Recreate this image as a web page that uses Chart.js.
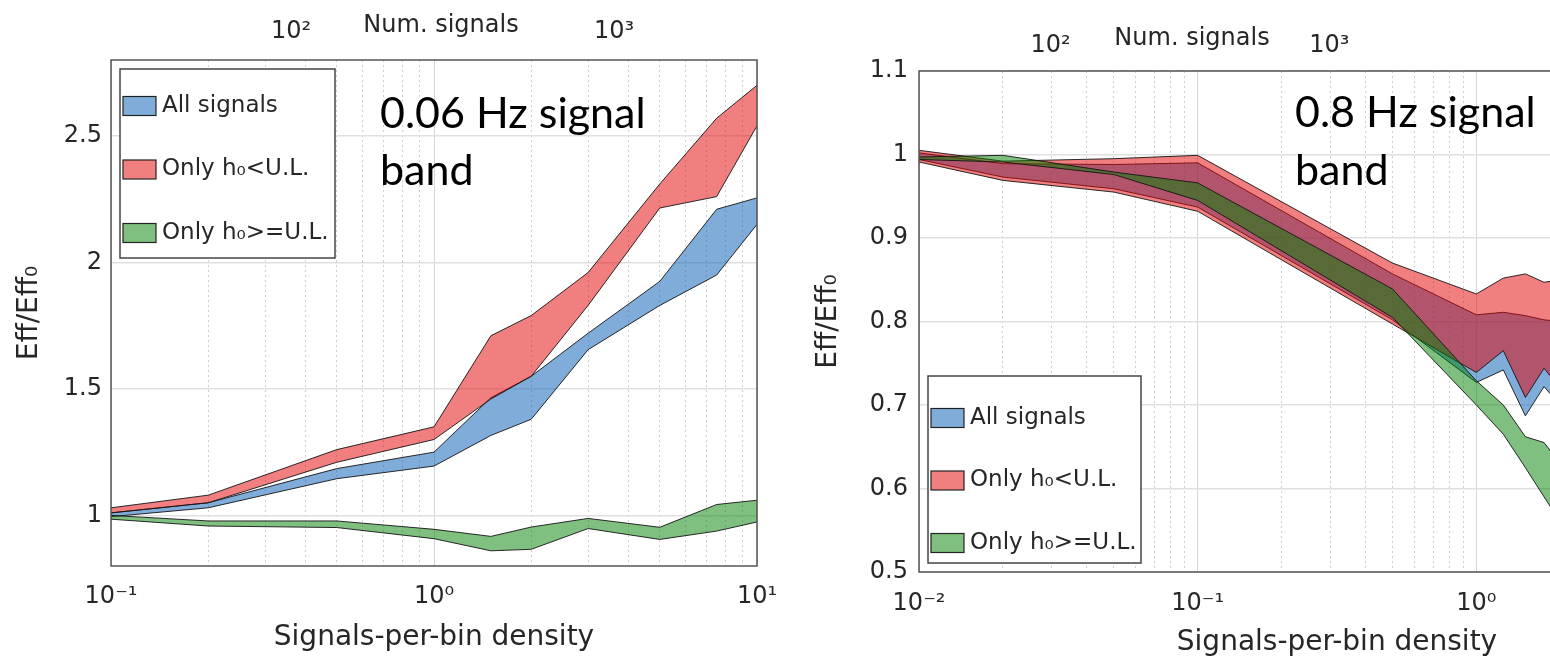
<!DOCTYPE html>
<html>
<head>
<meta charset="utf-8">
<script src="https://cdn.jsdelivr.net/npm/chart.js@4.4.1/dist/chart.umd.min.js"></script>
<style>
  html, body { margin: 0; padding: 0; overflow: hidden; background: #fff; }
  #wrap { position: relative; width: 1550px; height: 660px; overflow: hidden; }
  #left { position: absolute; left: 0; top: 0; }
  #right { position: absolute; left: 800px; top: 0; }
</style>
</head>
<body>
<div id="wrap">
  <canvas id="left" width="800" height="660"></canvas>
  <canvas id="right" width="1000" height="660"></canvas>
</div>
<script>
// ---- left panel: 0.06 Hz signal band ----
var densityA = [0.1, 0.2, 0.5, 1, 1.5, 2, 3, 5, 7.5, 10];
var allHiA   = [1.01, 1.05, 1.185, 1.25, 1.465, 1.55, 1.72, 1.925, 2.21, 2.255];
var allLoA   = [0.995, 1.03, 1.145, 1.195, 1.316, 1.38, 1.655, 1.83, 1.95, 2.15];
var belowHiA = [1.03, 1.08, 1.26, 1.35, 1.71, 1.79, 1.96, 2.31, 2.57, 2.70];
var belowLoA = [1.01, 1.05, 1.21, 1.30, 1.46, 1.55, 1.83, 2.215, 2.26, 2.54];
var aboveHiA = [1.0, 0.978, 0.978, 0.945, 0.917, 0.954, 0.988, 0.953, 1.043, 1.06];
var aboveLoA = [0.985, 0.958, 0.952, 0.908, 0.86, 0.866, 0.948, 0.905, 0.938, 0.974];

// ---- right panel: 0.8 Hz signal band ----
var densityB = [0.01, 0.02, 0.05, 0.1, 0.5, 1, 1.25, 1.5, 1.75, 2];
var allHiB   = [1.002, 0.989, 0.988, 0.990, 0.857, 0.808, 0.811, 0.807, 0.802, 0.80];
var allLoB   = [0.994, 0.973, 0.959, 0.937, 0.802, 0.727, 0.742, 0.687, 0.722, 0.70];
var belowHiB = [1.005, 0.992, 0.995, 0.999, 0.870, 0.833, 0.852, 0.857, 0.847, 0.85];
var belowLoB = [0.991, 0.969, 0.955, 0.932, 0.797, 0.739, 0.765, 0.709, 0.744, 0.72];
var aboveHiB = [0.997, 0.999, 0.979, 0.966, 0.839, 0.729, 0.700, 0.662, 0.655, 0.63];
var aboveLoB = [0.994, 0.991, 0.976, 0.945, 0.805, 0.700, 0.665, 0.625, 0.590, 0.56];

// ticks and labels
var yTicksA = [1, 1.5, 2, 2.5];
var yTicksB = [0.5, 0.6, 0.7, 0.8, 0.9, 1, 1.1];
var xMajorA = [0.1, 1, 10];
var xMajorLabelsA = ['10⁻¹', '10⁰', '10¹'];
var xMajorB = [0.01, 0.1, 1, 10];
var xMajorLabelsB = ['10⁻²', '10⁻¹', '10⁰', '10¹'];
var topTicks = [100, 1000, 10000];
var topLabels = ['10²', '10³', '10⁴'];
var seriesLabels = ['All signals', 'Only h₀<U.L.', 'Only h₀>=U.L.'];

var fillColors = ['rgba(0, 90, 180, 0.5)', 'rgba(230, 0, 0, 0.5)', 'rgba(0, 128, 0, 0.5)'];
var textColor = '#262626';
var tickFont = { family: 'DejaVu Sans', size: 24 };
var titleFont = { family: 'DejaVu Sans', size: 28 };

function logTicks(lo, hi) {
    var out = [];
    for (var e = lo; e < hi; e++) {
        for (var m = 1; m < 10; m++) out.push(m * Math.pow(10, e));
    }
    out.push(Math.pow(10, hi));
    return out;
}

function isDecade(v) {
    var l = Math.log10(v);
    return Math.abs(l - Math.round(l)) < 1e-6;
}

function labelFor(v, values, labels) {
    for (var i = 0; i < values.length; i++) {
        if (Math.abs(v / values[i] - 1) < 1e-6) return labels[i];
    }
    return '';
}

function band(xs, lo, hi, idx, order) {
    var lower = xs.map(function(x, i) { return { x: x, y: lo[i] }; });
    var upper = xs.map(function(x, i) { return { x: x, y: hi[i] }; });
    return [
        { label: seriesLabels[idx] + ' (low)', data: lower, fill: false, order: order },
        { label: seriesLabels[idx], data: upper, fill: '-1', backgroundColor: fillColors[idx], order: order, legend: true }
    ];
}

// frame round the plot area
var framePlugin = {
    id: 'frame',
    afterDatasetsDraw: function(chart) {
        var a = chart.chartArea, ctx = chart.ctx;
        ctx.save();
        ctx.strokeStyle = '#555';
        ctx.lineWidth = 1.5;
        ctx.strokeRect(a.left, a.top, a.right - a.left, a.bottom - a.top);
        ctx.restore();
    }
};

// legend box inside the plot
var boxLegendPlugin = {
    id: 'boxLegend',
    afterDraw: function(chart, args, o) {
        var ctx = chart.ctx;
        ctx.save();
        ctx.fillStyle = '#fff';
        ctx.fillRect(o.x, o.y, o.w, o.h);
        ctx.strokeStyle = '#444';
        ctx.lineWidth = 1.5;
        ctx.strokeRect(o.x, o.y, o.w, o.h);
        var row = 0;
        chart.data.datasets.forEach(function(ds) {
            if (!ds.legend) return;
            var cy = o.firstRow + row * o.rowStep;
            ctx.fillStyle = ds.backgroundColor;
            ctx.fillRect(o.x + 3, cy - 9.5, 33, 19);
            ctx.strokeStyle = '#222';
            ctx.lineWidth = 1.2;
            ctx.strokeRect(o.x + 3, cy - 9.5, 33, 19);
            ctx.fillStyle = textColor;
            ctx.font = '23px "DejaVu Sans"';
            ctx.textBaseline = 'middle';
            ctx.textAlign = 'left';
            ctx.fillText(ds.label, o.x + 42, cy);
            row++;
        });
        ctx.restore();
    }
};

// free text: axis name on top and the band note
var notesPlugin = {
    id: 'notes',
    afterDraw: function(chart, args, o) {
        var ctx = chart.ctx;
        ctx.save();
        ctx.textBaseline = 'alphabetic';
        o.items.forEach(function(t) {
            ctx.font = t.font;
            ctx.textAlign = t.align || 'left';
            ctx.fillStyle = t.color || '#000';
            ctx.fillText(t.text, t.x, t.y);
        });
        ctx.restore();
    }
};

function makeChart(id, cfg) {
    var datasets = [].concat(
        band(cfg.xs, cfg.allLo, cfg.allHi, 0, 3),
        band(cfg.xs, cfg.belowLo, cfg.belowHi, 1, 2),
        band(cfg.xs, cfg.aboveLo, cfg.aboveHi, 2, 1)
    );
    return new Chart(document.getElementById(id), {
        type: 'line',
        data: { datasets: datasets },
        plugins: [framePlugin, boxLegendPlugin, notesPlugin],
        options: {
            responsive: false,
            animation: false,
            devicePixelRatio: 1,
            layout: { padding: { left: 0, top: 0, right: cfg.padRight, bottom: 0 } },
            elements: {
                point: { radius: 0 },
                line: { tension: 0, borderWidth: 1, borderColor: 'rgba(20, 20, 20, 0.9)' }
            },
            scales: {
                x: {
                    type: 'logarithmic',
                    position: 'bottom',
                    min: cfg.xMin,
                    max: cfg.xMax,
                    afterBuildTicks: function(s) {
                        s.ticks = cfg.xTicks.map(function(v) { return { value: v }; });
                    },
                    afterFit: function(s) { s.height = cfg.bottomH; },
                    ticks: {
                        autoSkip: false, maxRotation: 0, padding: cfg.xPad,
                        font: tickFont, color: textColor,
                        callback: function(v) { return labelFor(v, cfg.xMajor, cfg.xMajorLabels); }
                    },
                    grid: {
                        drawTicks: false,
                        lineWidth: 1,
                        color: function(c) { return c.tick && isDecade(c.tick.value) ? '#d6d6d6' : '#cfcfcf'; }
                    },
                    border: {
                        display: false,
                        dash: function(c) { return c.tick && !isDecade(c.tick.value) ? [2, 3] : []; }
                    },
                    title: {
                        display: true, text: 'Signals-per-bin density',
                        font: titleFont, color: textColor, padding: { top: 0, bottom: cfg.xTitlePad }
                    }
                },
                x2: {
                    type: 'logarithmic',
                    position: 'top',
                    min: cfg.topMin,
                    max: cfg.topMax,
                    afterBuildTicks: function(s) {
                        s.ticks = topTicks.filter(function(v) {
                            return v >= cfg.topMin && v <= cfg.topMax;
                        }).map(function(v) { return { value: v }; });
                    },
                    afterFit: function(s) { s.height = cfg.topH; },
                    ticks: {
                        autoSkip: false, maxRotation: 0, padding: cfg.topPad,
                        font: tickFont, color: textColor,
                        callback: function(v) { return labelFor(v, topTicks, topLabels); }
                    },
                    grid: { display: false },
                    border: { display: false }
                },
                y: {
                    min: cfg.yMin,
                    max: cfg.yMax,
                    afterBuildTicks: function(s) {
                        s.ticks = cfg.yTicks.map(function(v) { return { value: v }; });
                    },
                    afterFit: function(s) { s.width = cfg.leftW; },
                    ticks: {
                        padding: cfg.yPad, font: tickFont, color: textColor,
                        callback: function(v) { return String(v); }
                    },
                    grid: { drawTicks: false, color: '#e0e0e0', lineWidth: 1.5 },
                    border: { display: false },
                    title: {
                        display: true, text: 'Eff/Eff₀',
                        font: titleFont, color: textColor, padding: { top: cfg.yTitlePad, bottom: 0 }
                    }
                }
            },
            plugins: {
                legend: { display: false },
                tooltip: { enabled: false },
                boxLegend: cfg.legendBox,
                notes: { items: cfg.notes }
            }
        }
    });
}

makeChart('left', {
    xs: densityA,
    allLo: allLoA, allHi: allHiA, belowLo: belowLoA, belowHi: belowHiA, aboveLo: aboveLoA, aboveHi: aboveHiA,
    xMin: 0.1, xMax: 10, xTicks: logTicks(-1, 1), xMajor: xMajorA, xMajorLabels: xMajorLabelsA,
    topMin: 27.7, topMax: 2770,
    yMin: 0.8, yMax: 2.8, yTicks: yTicksA,
    padRight: 43, leftW: 111, topH: 60, bottomH: 94,
    xPad: 16, xTitlePad: 5, topPad: 6, yPad: 9, yTitlePad: 13,
    legendBox: { x: 120, y: 69, w: 215, h: 189, firstRow: 106, rowStep: 63.5 },
    notes: [
        { text: 'Num. signals', x: 441, y: 32, font: '24px "DejaVu Sans"', align: 'center', color: textColor },
        { text: '0.06 Hz signal', x: 380, y: 128, font: '43px Lato' },
        { text: 'band', x: 380, y: 185, font: '43px Lato' }
    ]
});

makeChart('right', {
    xs: densityB,
    allLo: allLoB, allHi: allHiB, belowLo: belowLoB, belowHi: belowHiB, aboveLo: aboveLoB, aboveHi: aboveHiB,
    xMin: 0.01, xMax: 10, xTicks: logTicks(-2, 1), xMajor: xMajorB, xMajorLabels: xMajorLabelsB,
    topMin: 33.7, topMax: 33700,
    yMin: 0.5, yMax: 1.1, yTicks: yTicksB,
    padRight: 45, leftW: 119, topH: 71, bottomH: 88,
    xPad: 17, xTitlePad: 0, topPad: 3, yPad: 11, yTitlePad: 12,
    legendBox: { x: 128, y: 376, w: 213, h: 187, firstRow: 418, rowStep: 62.5 },
    notes: [
        { text: 'Num. signals', x: 392, y: 45, font: '24px "DejaVu Sans"', align: 'center', color: textColor },
        { text: '0.8 Hz signal', x: 495, y: 127, font: '43px Lato' },
        { text: 'band', x: 495, y: 185, font: '43px Lato' }
    ]
});
</script>
</body>
</html>
